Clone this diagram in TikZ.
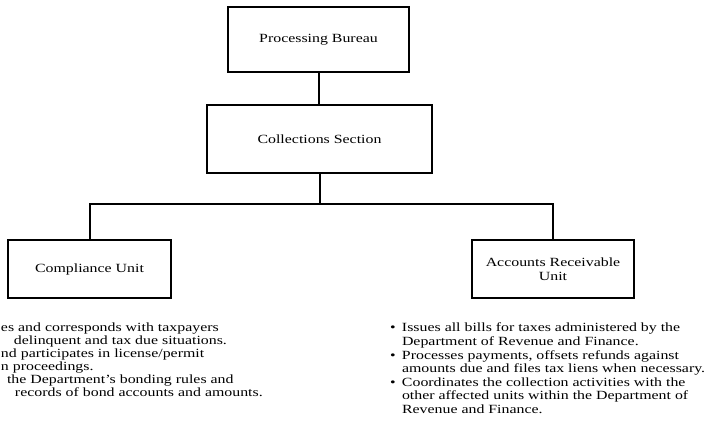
\documentclass[tikz,border=0pt]{standalone}
\usepackage{fontspec}
\setmainfont{Liberation Serif}[FakeStretch=1.27]
\newcommand{\bul}{\makebox[12pt][l]{\textbullet}}
\newcommand{\hang}{\hspace*{12pt}}
\begin{document}
\begin{tikzpicture}[x=1pt,y=1pt,line width=2pt,
  every node/.style={font=\fontsize{12.5}{13.6}\selectfont},
  unit/.style={draw,align=center,inner sep=2pt,line width=2pt},
  duties/.style={align=left,inner sep=0pt,anchor=north west}]
\useasboundingbox (0,0) rectangle (709,432);
% boxes
\node[unit,minimum width=181pt,minimum height=65pt] (bureau) at (318.5,392.5) {Processing Bureau};
\node[unit,minimum width=225pt,minimum height=68pt] (section) at (319.5,293) {Collections Section};
\node[unit,minimum width=163pt,minimum height=58pt] (compliance) at (89.5,163) {Compliance Unit};
\node[unit,minimum width=162pt,minimum height=58pt] (receivable) at (553,163) {Accounts Receivable\\Unit};
\coordinate (bar) at (319.5,228);
% connectors
\draw (bureau.south) -- (bureau.south |- section.north);
\draw (section.south) -- (bar);
\draw (compliance.north) |- (bar) -| (receivable.north);
% duties
\node[duties,font=\fontsize{12.5}{13}\selectfont] (compliancetext) at (0,110) {es and corresponds with taxpayers\\
\hspace*{13pt}delinquent and tax due situations.\\
nd participates in license/permit\\
n proceedings.\\
\hspace*{6pt}the Department's bonding rules and\\
\hspace*{14pt}records of bond accounts and amounts.};
\node[duties] (receivabletext) at (389,110) {\bul Issues all bills for taxes administered by the\\
\hang Department of Revenue and Finance.\\
\bul Processes payments, offsets refunds against\\
\hang amounts due and files tax liens when necessary.\\
\bul Coordinates the collection activities with the\\
\hang other affected units within the Department of\\
\hang Revenue and Finance.};
\end{tikzpicture}
\end{document}
